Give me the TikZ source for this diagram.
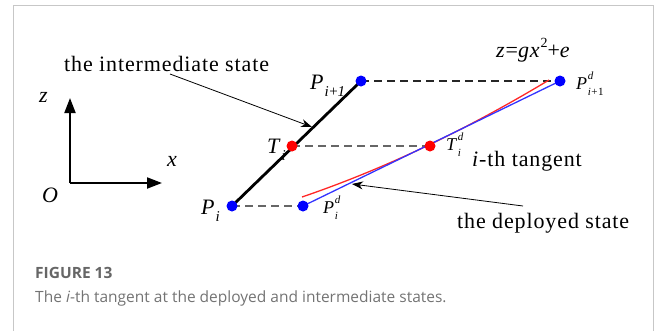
\documentclass[tikz,border=0pt]{standalone}
\usepackage{fontspec}
\setmainfont{Liberation Serif}[LetterSpace=4]
\newfontfamily\capfont{Open Sans}
\usetikzlibrary{arrows.meta}
\newcommand{\mysub}[2]{\raisebox{-0.32em}{\fontsize{#1}{#1}\selectfont #2}}
\newcommand{\mysupsub}[3]{\rlap{\raisebox{0.55em}{\fontsize{#1}{#1}\selectfont #2}}\raisebox{-0.35em}{\fontsize{#1}{#1}\selectfont #3}}
\begin{document}
\begin{tikzpicture}[x=1pt,y=-1pt,
  dot/.style={circle,inner sep=0pt,minimum size=11pt},
  lbl/.style={inner sep=0pt,anchor=base west,font=\fontsize{22}{22}\selectfont},
  slbl/.style={inner sep=0pt,anchor=base west,font=\fontsize{18}{18}\selectfont},
  axis/.style={line width=2pt,-{Triangle[length=15pt,width=11pt]}},
  note/.style={line width=0.8pt,-{Stealth[length=11pt,width=8pt]}},
  guide/.style={dashed,dash pattern=on 8pt off 5pt,line width=1.2pt}]
\useasboundingbox (0,0) rectangle (656,330);
\draw[black!22,line width=1pt] (13,340) -- (13,5) -- (653,5) -- (653,340);
% axes
\coordinate (O) at (70,183);
\coordinate (zend) at (70,98);
\coordinate (xend) at (162,183);
\draw[axis] (O) -- (zend);
\draw[axis] (O) -- (xend);
\node[lbl] (zl) at (39,102) {\textit{z}};
\node[lbl] (xl) at (167,166) {\textit{x}};
\node[lbl] (ol) at (42,202) {\textit{O}};
% key points
\coordinate (cPi) at (232,206);
\coordinate (cPi1) at (361,81);
\coordinate (cTi) at (292,146);
\coordinate (cPid) at (303,206);
\coordinate (cTid) at (430,146);
\coordinate (cPi1d) at (560,81);
\coordinate (rA) at (302,197);
\coordinate (rC) at (549,80);
% dashed guides
\draw[guide,black!60] (cPi) -- (cPid);
\draw[guide,black!60] (cTi) -- (cTid);
\draw[guide,black!85] (cPi1) -- (cPi1d);
% intermediate state
\draw[line width=2.8pt] (cPi) -- (cPi1);
% deployed state (red) and tangent (blue)
\draw[red!85,line width=1.3pt] (rA) .. controls (384,169) and (466,130) .. (rC);
\draw[blue!80,line width=1.3pt] (cPid) -- (cPi1d);
% dots
\node[dot,fill=blue] (Pi) at (cPi) {};
\node[dot,fill=blue] (Pi1) at (cPi1) {};
\node[dot,fill=blue] (Pid) at (cPid) {};
\node[dot,fill=blue] (Pi1d) at (cPi1d) {};
\node[dot,fill=red] (Ti) at (cTi) {};
\node[dot,fill=red] (Tid) at (cTid) {};
% point labels
\node[lbl] (PiL) at (201,214) {\textit{P}\mysub{15}{\textit{i}}};
\node[lbl] (TiL) at (267,153) {\textit{T}\mysub{15}{\textit{i}}};
\node[lbl] (Pi1L) at (310,89) {\textit{P}\mysub{15}{\textit{i}+\textit{1}}};
\node[slbl] (TidL) at (446,150) {\textit{T}\mysupsub{11}{\textit{d}}{\textit{i}}};
\node[slbl] (PidL) at (323,213) {\textit{P}\mysupsub{11}{\textit{d}}{\textit{i}}};
\node[slbl] (Pi1dL) at (576,89) {\textit{P}\mysupsub{11}{\textit{d}}{\textit{i}+1}};
% texts
\node[lbl] (eq) at (496,57) {\textit{z}=\textit{gx}\raisebox{0.45em}{\fontsize{14}{14}\selectfont 2}+\textit{e}};
\node[lbl] (tang) at (472,166) {\textit{i}-th tangent};
\node[lbl] (dep) at (457,228) {the deployed state};
\node[lbl] (inter) at (64,71) {the intermediate state};
\coordinate (interTip) at (312,127);
\coordinate (interStart) at (170,74);
\coordinate (depTip) at (352,184);
\coordinate (depStart) at (523,206);
\draw[note] (interStart) -- (interTip);
\draw[note] (depStart) -- (depTip);
% caption
\node[inner sep=0pt,anchor=base west,font=\capfont\bfseries\fontsize{15.5}{15.5}\selectfont,text=black!60] (figno) at (35,278) {FIGURE 13};
\node[inner sep=0pt,anchor=base west,font=\capfont\fontsize{15.5}{15.5}\selectfont,text=black!55] (cap) at (35,302) {The \textit{i}-th tangent at the deployed and intermediate states.};
\end{tikzpicture}
\end{document}
